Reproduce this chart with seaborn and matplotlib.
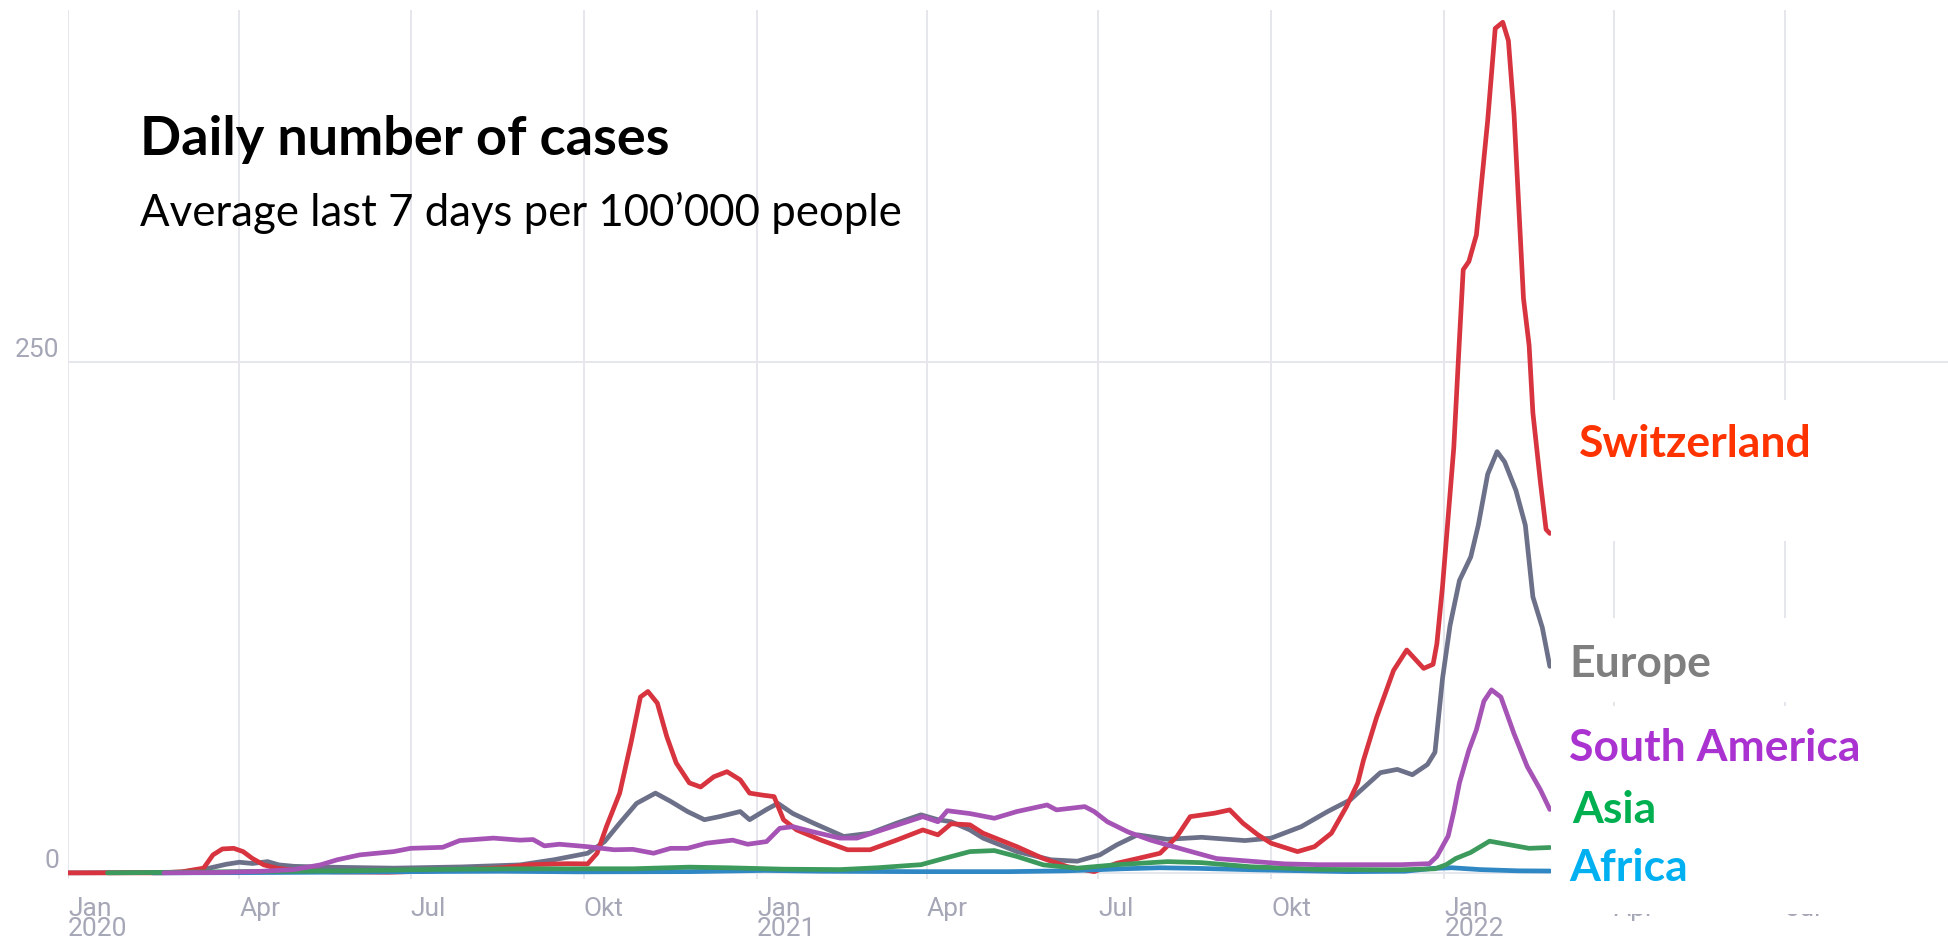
import pandas as pd
import matplotlib.pyplot as plt
import seaborn as sns
from matplotlib.patches import Rectangle

# values (7-day average cases per 100'000)
ch_dates = ["2020-01-01", "2020-02-20", "2020-03-02", "2020-03-13", "2020-03-18", "2020-03-23", "2020-03-29",
            "2020-04-03", "2020-04-08", "2020-04-14", "2020-04-21", "2020-04-30", "2020-05-20", "2020-06-19",
            "2020-07-09", "2020-07-29", "2020-08-18", "2020-09-02", "2020-09-22", "2020-10-03", "2020-10-08",
            "2020-10-13", "2020-10-20", "2020-10-26", "2020-10-31", "2020-11-04", "2020-11-09", "2020-11-14",
            "2020-11-19", "2020-11-26", "2020-12-02", "2020-12-09", "2020-12-16", "2020-12-23", "2020-12-28",
            "2021-01-04", "2021-01-10", "2021-01-15", "2021-01-22", "2021-02-04", "2021-02-18", "2021-03-02",
            "2021-03-16", "2021-03-30", "2021-04-07", "2021-04-14", "2021-04-24", "2021-05-01", "2021-05-19",
            "2021-06-02", "2021-06-15", "2021-06-29", "2021-07-11", "2021-07-22", "2021-08-03", "2021-08-12",
            "2021-08-19", "2021-09-01", "2021-09-09", "2021-09-16", "2021-09-24", "2021-10-01", "2021-10-15",
            "2021-10-24", "2021-11-02", "2021-11-10", "2021-11-16", "2021-11-19", "2021-11-26", "2021-12-05",
            "2021-12-12", "2021-12-21", "2021-12-26", "2021-12-28", "2021-12-31", "2022-01-03", "2022-01-06",
            "2022-01-09", "2022-01-11", "2022-01-14", "2022-01-18", "2022-01-24", "2022-01-28", "2022-02-01",
            "2022-02-04", "2022-02-07", "2022-02-12", "2022-02-15", "2022-02-17", "2022-02-21", "2022-02-24",
            "2022-02-26"]
ch_values = [0, 0, 0.6, 2.3, 8.8, 11.7, 12, 10.4, 7, 3.9, 2.3, 1.3, 0.5, 0.3, 0.8, 1.5, 2.5, 4, 4.5, 4.4, 9.6,
             22.7, 39, 63.6, 86, 88.7, 83, 66.7, 53.8, 44, 42, 47, 49.5, 45.5, 39, 38, 37.3, 26, 21, 16, 11.3, 11.3,
             16, 21, 18.6, 24, 23.5, 19.4, 12.8, 7, 3, 0.6, 4.7, 7, 9.6, 17.8, 27.5, 29.2, 30.8, 24.3, 18.6, 14.5,
             10.4, 12.8, 19.4, 32.4, 44, 55, 76, 99, 109, 100, 102, 112, 140, 174, 208, 261, 295, 299, 312, 368,
             413, 416, 407, 371, 281, 258, 225, 191, 168, 166]

eu_dates = ["2020-01-01", "2020-03-01", "2020-03-16", "2020-03-25", "2020-04-01", "2020-04-08", "2020-04-16",
            "2020-04-22", "2020-04-30", "2020-05-18", "2020-06-22", "2020-07-28", "2020-08-28", "2020-09-15",
            "2020-10-03", "2020-10-12", "2020-10-20", "2020-10-29", "2020-11-08", "2020-11-16", "2020-11-25",
            "2020-12-04", "2020-12-12", "2020-12-23", "2020-12-28", "2021-01-06", "2021-01-12", "2021-01-20",
            "2021-01-31", "2021-02-16", "2021-03-02", "2021-03-16", "2021-03-29", "2021-04-07", "2021-04-14",
            "2021-04-24", "2021-05-01", "2021-05-19", "2021-06-06", "2021-06-20", "2021-07-02", "2021-07-11",
            "2021-07-22", "2021-08-07", "2021-08-25", "2021-09-17", "2021-10-01", "2021-10-17", "2021-10-31",
            "2021-11-12", "2021-11-28", "2021-12-07", "2021-12-15", "2021-12-23", "2021-12-27", "2021-12-31",
            "2022-01-04", "2022-01-09", "2022-01-15", "2022-01-19", "2022-01-24", "2022-01-29", "2022-02-02",
            "2022-02-08", "2022-02-13", "2022-02-17", "2022-02-22", "2022-02-26"]
eu_values = [0, 0.3, 2.3, 4.2, 5.2, 4.6, 5.5, 3.9, 3.2, 2.8, 2.3, 2.9, 3.9, 6.4, 9.6, 15.3, 24.3, 34, 39, 35, 30,
             26, 27.5, 30, 26, 31, 34, 29, 24.3, 17.8, 19.4, 24.3, 28.4, 26, 25, 21, 17, 10.4, 6.4, 5.7, 8.8, 13.7,
             18.6, 16.4, 17.4, 15.8, 17, 22.6, 30, 35.7, 49, 50.6, 48, 53, 59, 95, 121, 143, 154.5, 170, 195, 206,
             201, 187, 170, 135, 120, 101]

sa_dates = ["2020-02-21", "2020-03-20", "2020-04-11", "2020-04-30", "2020-05-14", "2020-05-23", "2020-06-04",
            "2020-06-22", "2020-07-01", "2020-07-18", "2020-07-27", "2020-08-14", "2020-08-28", "2020-09-04",
            "2020-09-10", "2020-09-18", "2020-10-03", "2020-10-17", "2020-10-27", "2020-11-07", "2020-11-16",
            "2020-11-25", "2020-12-05", "2020-12-19", "2020-12-27", "2021-01-06", "2021-01-13", "2021-01-20",
            "2021-01-31", "2021-02-14", "2021-02-23", "2021-03-11", "2021-03-30", "2021-04-07", "2021-04-12",
            "2021-04-24", "2021-05-07", "2021-05-19", "2021-06-04", "2021-06-09", "2021-06-24", "2021-06-29",
            "2021-07-06", "2021-07-17", "2021-07-29", "2021-08-16", "2021-09-02", "2021-09-20", "2021-10-08",
            "2021-10-26", "2021-12-09", "2021-12-24", "2021-12-28", "2021-12-31", "2022-01-03", "2022-01-06",
            "2022-01-09", "2022-01-14", "2022-01-18", "2022-01-22", "2022-01-26", "2022-01-31", "2022-02-07",
            "2022-02-14", "2022-02-21", "2022-02-26"]
sa_values = [0, 0.2, 0.7, 1.6, 3.9, 6.4, 8.8, 10.4, 12, 12.5, 15.8, 17, 16, 16.3, 13.2, 14, 12.8, 11.3, 11.5, 9.6,
             12, 12, 14.5, 16, 14, 15.3, 21.8, 22.6, 20, 17, 17, 21.8, 27.5, 25, 30.4, 29, 26.7, 30, 33.2, 30.8,
             32.4, 30, 25, 20, 16, 11.3, 7, 5.7, 4.4, 4, 4, 4.5, 8, 13, 18, 30, 44, 60, 70, 84, 89.5, 86, 68, 52,
             40.6, 31]

as_dates = ["2020-01-22", "2020-03-01", "2020-03-31", "2020-04-30", "2020-05-30", "2020-06-29", "2020-07-29",
            "2020-08-28", "2020-09-27", "2020-10-27", "2020-11-26", "2020-12-16", "2021-01-15", "2021-02-14",
            "2021-03-06", "2021-03-21", "2021-03-29", "2021-04-10", "2021-04-24", "2021-05-07", "2021-05-19",
            "2021-06-02", "2021-06-20", "2021-07-11", "2021-08-07", "2021-08-25", "2021-09-20", "2021-10-26",
            "2021-12-09", "2021-12-27", "2022-01-02", "2022-01-07", "2022-01-15", "2022-01-25", "2022-02-03",
            "2022-02-15", "2022-02-26"]
as_values = [0, 0.3, 0.6, 0.8, 1, 1.5, 1.8, 2, 2, 2, 2.8, 2.5, 1.8, 1.6, 2.5, 3.5, 4, 7, 10.4, 10.9, 8, 3.9, 2.3,
             4, 5.5, 5, 3, 1.7, 1.5, 2, 4, 7, 10, 15.5, 14, 12, 12.4]

af_dates = ["2020-02-15", "2020-03-31", "2020-05-30", "2020-07-19", "2020-08-18", "2020-09-27", "2020-11-26",
            "2021-01-05", "2021-02-04", "2021-03-26", "2021-05-15", "2021-06-14", "2021-07-14", "2021-08-03",
            "2021-08-23", "2021-09-22", "2021-11-11", "2021-12-11", "2021-12-26", "2022-01-05", "2022-01-20",
            "2022-02-09", "2022-02-26"]
af_values = [0, 0.1, 0.4, 0.7, 0.8, 0.5, 0.6, 1.2, 0.8, 0.6, 0.6, 1, 2, 2.5, 2.2, 1.5, 0.6, 0.8, 2.2, 2.5, 1.6, 1,
             0.9]

regions = ["Europe", "Switzerland", "Africa", "Asia", "South America"]
line_colors = {"Switzerland": "#d8343f", "Europe": "#6c7189", "South America": "#a653b6",
               "Asia": "#3c9a5c", "Africa": "#2f87c3"}
label_colors = {"Switzerland": "#ff3300", "Europe": "#7f7f7f", "South America": "#a932d0",
                "Asia": "#00b050", "Africa": "#00b0f0"}

tick_dates = ["2020-01-01", "2020-04-01", "2020-07-01", "2020-10-01", "2021-01-01", "2021-04-01",
              "2021-07-01", "2021-10-01", "2022-01-01", "2022-04-01", "2022-07-01"]
tick_labels = ["Jan\n2020", "Apr", "Jul", "Okt", "Jan\n2021", "Apr", "Jul", "Okt", "Jan\n2022", "Apr", "Jul"]
y_ticks = [0, 250]

series = {"Switzerland": (ch_dates, ch_values), "Europe": (eu_dates, eu_values),
          "South America": (sa_dates, sa_values), "Asia": (as_dates, as_values),
          "Africa": (af_dates, af_values)}
frames = []
for name, (d, v) in series.items():
    frames.append(pd.DataFrame({"date": pd.to_datetime(d), "value": v, "region": name}))
df = pd.concat(frames, ignore_index=True)

sns.set_style("white")
plt.rcParams["font.family"] = ["Lato", "DejaVu Sans"]

W, H = 1949, 941
fig = plt.figure(figsize=(W / 100, H / 100), dpi=100)
ax = fig.add_axes([68 / W, 62 / H, 1 - 68 / W, 869 / H])

sns.lineplot(data=df, x="date", y="value", hue="region", hue_order=regions, palette=line_colors,
             linewidth=3.4, estimator=None, legend=False, ax=ax)

ax.set_xlim(pd.Timestamp("2020-01-01"), pd.Timestamp("2022-09-26"))
ax.set_ylim(-3, 422)
ax.set_xticks(pd.to_datetime(tick_dates))
ax.set_xticklabels(tick_labels)
ax.set_yticks(y_ticks)
ax.set_yticklabels([str(t) for t in y_ticks])
ax.set_xlabel("")
ax.set_ylabel("")
for s in ax.spines.values():
    s.set_visible(False)
ax.grid(True, color="#e6e7ed", linewidth=1.4)
ax.set_axisbelow(True)
ax.tick_params(axis="both", length=0, colors="#a5a7b7", labelsize=19)
ax.tick_params(axis="x", pad=13)
ax.tick_params(axis="y", pad=6)
for lab in ax.get_xticklabels():
    lab.set_ha("left")
    lab.set_family("Roboto")
    lab.set_linespacing(0.78)
for lab in ax.get_yticklabels():
    lab.set_va("bottom")
    lab.set_family("Roboto")

# white panels behind the end labels (they hide grid and tick text)
for y0, y1 in [(400, 541), (618, 702), (706, 914)]:
    fig.add_artist(Rectangle((1551 / W, 1 - y1 / H), 1 - 1551 / W, (y1 - y0) / H,
                             transform=fig.transFigure, facecolor="white", edgecolor="none", zorder=5))

end_labels = [("Switzerland", 1579, 457), ("Europe", 1569, 677), ("South America", 1569, 761),
              ("Asia", 1572, 823), ("Africa", 1569, 881)]
for name, px, py in end_labels:
    fig.text(px / W, 1 - py / H, name, color=label_colors[name], fontsize=32, fontweight="bold",
             va="baseline", ha="left", zorder=10)

fig.text(140 / W, 1 - 155 / H, "Daily number of cases", fontsize=39, fontweight="bold",
         color="black", va="baseline", zorder=10)
fig.text(140 / W, 1 - 226 / H, "Average last 7 days per 100\u2019000 people", fontsize=31.5,
         color="black", va="baseline", zorder=10)

fig.savefig("out.png", dpi=100, facecolor="white")
